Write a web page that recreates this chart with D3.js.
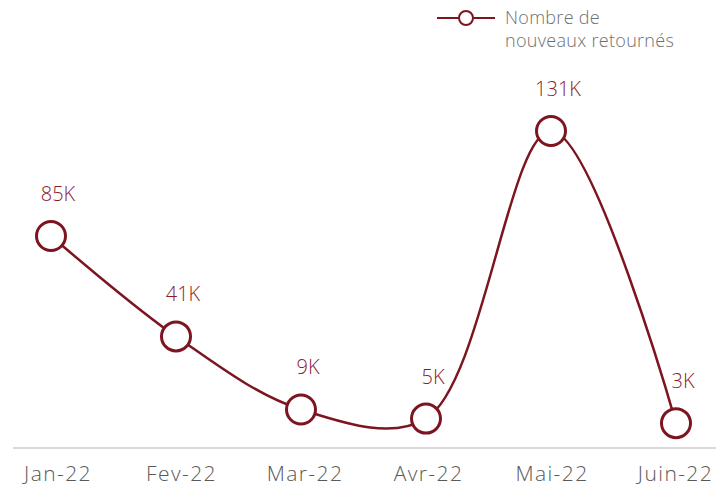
<!DOCTYPE html>
<html>
<head>
<meta charset="utf-8">
<script src="https://cdn.jsdelivr.net/npm/d3@7"></script>
<style>
  body { margin: 0; background: #fff; }
  svg text { font-family: "Open Sans", Lato, sans-serif; }
</style>
</head>
<body>
<svg id="chart" width="716" height="489"></svg>
<script>
const months = ['Jan-22', 'Fev-22', 'Mar-22', 'Avr-22', 'Mai-22', 'Juin-22'];
const values = [85, 41, 9, 5, 131, 3];
const valueLabels = ['85K', '41K', '9K', '5K', '131K', '3K'];
const seriesName = ['Nombre de', 'nouveaux retournés'];

const lineColor = '#7d1521';
const svg = d3.select('#chart');

const x = d3.scalePoint()
  .domain(months)
  .range([51, 676]);

const y = d3.scaleLinear()
  .domain([0, 131])
  .range([430, 131]);

// baseline
svg.append('line')
  .attr('x1', 13)
  .attr('x2', 716)
  .attr('y1', 448)
  .attr('y2', 448)
  .attr('stroke', '#d9d9d9')
  .attr('stroke-width', 2);

// x labels
svg.append('g')
  .selectAll('text')
  .data(months)
  .join('text')
  .attr('x', (d, i) => x(d) + 7 - i * 1.5)
  .attr('y', 481)
  .attr('text-anchor', 'middle')
  .attr('fill', '#595959')
  .style('font-size', '21px')
  .style('font-weight', 300)
  .style('letter-spacing', '1.4px')
  .text(d => d);

const pts = months.map((m, i) => ({ m, v: values[i], label: valueLabels[i] }));

svg.append('path')
  .datum(pts)
  .attr('fill', 'none')
  .attr('stroke', lineColor)
  .attr('stroke-width', 2.5)
  .attr('d', d3.line()
    .curve(d3.curveCatmullRom.alpha(0.5))
    .x(d => x(d.m))
    .y(d => y(d.v)));

svg.append('g')
  .selectAll('circle')
  .data(pts)
  .join('circle')
  .attr('cx', d => x(d.m))
  .attr('cy', d => y(d.v))
  .attr('r', 14.5)
  .attr('fill', '#fff')
  .attr('stroke', lineColor)
  .attr('stroke-width', 3);

svg.append('g')
  .selectAll('text')
  .data(pts)
  .join('text')
  .attr('x', d => x(d.m) + 7)
  .attr('y', d => y(d.v) - 35)
  .attr('text-anchor', 'middle')
  .attr('fill', '#8b1a2b')
  .style('font-size', '20px')
  .style('font-weight', 300)
  .text(d => d.label);

// legend
const legend = svg.append('g');
legend.append('line')
  .attr('x1', 437)
  .attr('x2', 495)
  .attr('y1', 18)
  .attr('y2', 18)
  .attr('stroke', lineColor)
  .attr('stroke-width', 2);
legend.append('circle')
  .attr('cx', 466)
  .attr('cy', 18)
  .attr('r', 7)
  .attr('fill', '#fff')
  .attr('stroke', lineColor)
  .attr('stroke-width', 2);
legend.selectAll('text')
  .data(seriesName)
  .join('text')
  .attr('x', 505)
  .attr('y', (d, i) => 24 + i * 23)
  .attr('fill', '#6f6f6f')
  .style('font-size', '18px')
  .style('font-weight', 300)
  .style('letter-spacing', '0.3px')
  .text(d => d);
</script>
</body>
</html>
